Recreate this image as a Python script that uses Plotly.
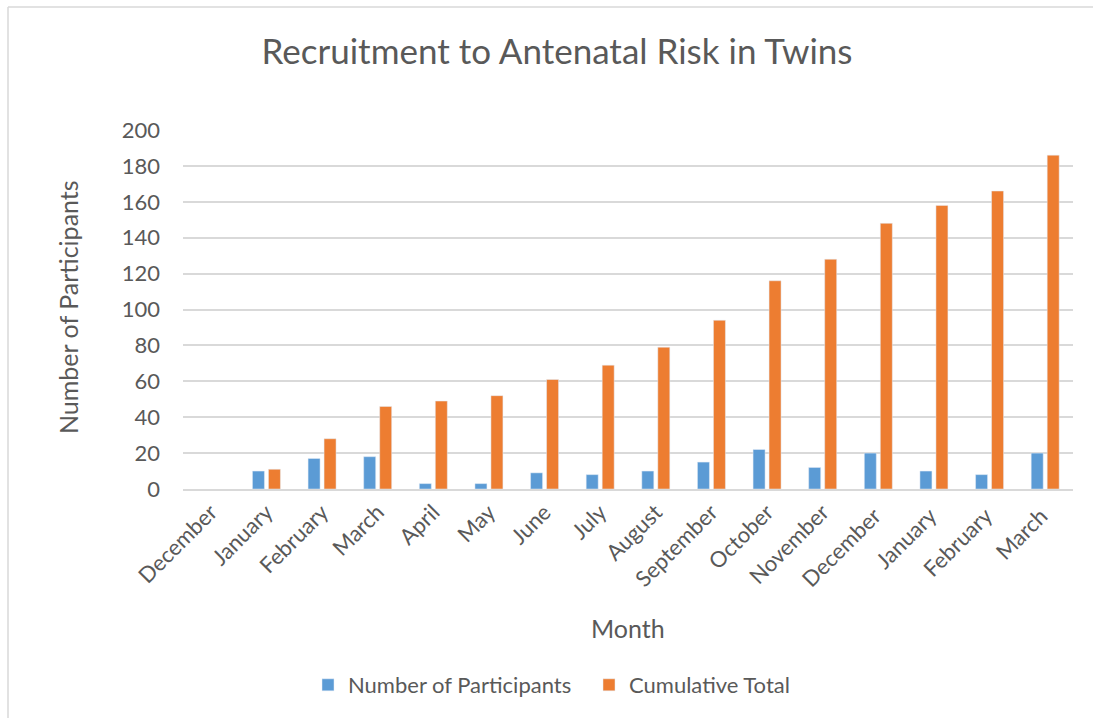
import plotly.graph_objects as go

months = ["December", "January", "February", "March", "April", "May", "June", "July",
          "August", "September", "October", "November", "December ", "January ",
          "February ", "March "]
participants = [None, 10, 17, 18, 3, 3, 9, 8, 10, 15, 22, 12, 20, 10, 8, 20]
cumulative = [None, 11, 28, 46, 49, 52, 61, 69, 79, 94, 116, 128, 148, 158, 166, 186]
y_ticks = [0, 20, 40, 60, 80, 100, 120, 140, 160, 180, 200]

FONT = "Lato, Calibri, Carlito, sans-serif"
TXT = "#595959"
GRID = "#d9d9d9"

fig = go.Figure()
fig.add_trace(go.Bar(x=months, y=participants, name="Number of Participants",
                     marker=dict(color="#5B9BD5"), legend="legend"))
fig.add_trace(go.Bar(x=months, y=cumulative, name="Cumulative Total",
                     marker=dict(color="#ED7D31"), legend="legend2"))

W, H = 1093, 718
L, R, T, B = 183, 20, 130, 229
pw, ph = W - L - R, H - T - B

def px2x(p):
    return (p - L) / pw

def px2y(p):
    return (H - B - p) / ph

leg_common = dict(orientation="h", xref="container", xanchor="left",
                  y=px2y(685), yanchor="middle", font=dict(size=22, color=TXT),
                  itemwidth=30, bgcolor="rgba(0,0,0,0)")

fig.update_layout(
    width=W, height=H,
    margin=dict(l=L, r=R, t=T, b=B, autoexpand=False),
    paper_bgcolor="white", plot_bgcolor="white",
    font=dict(family=FONT, color=TXT, size=22),
    barmode="group", bargap=0.425, bargroupgap=0.25,
    title=dict(text="Recruitment to Antenatal Risk in Twins", x=557 / W, xanchor="center",
               xref="container", y=1 - 52 / H, yanchor="middle", yref="container",
               font=dict(size=35, color=TXT, family=FONT)),
    xaxis=dict(tickangle=-45, tickfont=dict(size=22, color=TXT), showgrid=False,
               showline=True, linecolor=GRID, linewidth=1.5, ticks="",
               automargin=False),
    yaxis=dict(range=[0, 200], tickvals=y_ticks, tickfont=dict(size=22, color=TXT),
               showgrid=True, gridcolor=GRID, gridwidth=1.5, zeroline=False,
               showline=False, ticks="", ticklabelstandoff=22,
               automargin=False),
    legend=dict(x=308 / W, **leg_common),
    legend2=dict(x=589 / W, **leg_common),
    showlegend=True,
    annotations=[
        dict(text="Number of Participants", textangle=-90, xref="paper", yref="paper",
             x=px2x(68), y=px2y(307), xanchor="center", yanchor="middle",
             showarrow=False, font=dict(size=25, color=TXT, family=FONT)),
        dict(text="Month", xref="paper", yref="paper",
             x=px2x(628), y=px2y(628), xanchor="center", yanchor="middle",
             showarrow=False, font=dict(size=25, color=TXT, family=FONT)),
    ],
    shapes=[
        dict(type="line", xref="paper", yref="paper", x0=px2x(8), x1=px2x(8),
             y0=px2y(7), y1=px2y(H + 5), line=dict(color=GRID, width=1.5)),
        dict(type="line", xref="paper", yref="paper", x0=px2x(8), x1=px2x(W + 5),
             y0=px2y(7), y1=px2y(7), line=dict(color=GRID, width=1.5)),
    ],
)

fig.write_html("out.html", config={"displayModeBar": False},
               post_script="document.body.style.margin='0';document.body.style.overflow='hidden';")
